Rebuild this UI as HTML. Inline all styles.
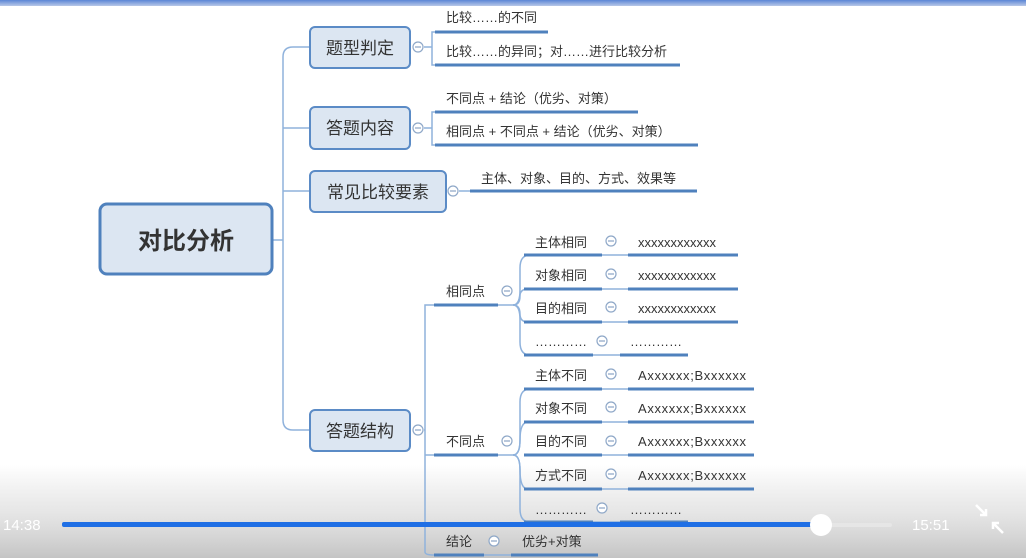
<!DOCTYPE html>
<html><head><meta charset="utf-8"><style>
html,body{margin:0;padding:0;background:#fff;width:1026px;height:558px;overflow:hidden}
svg text{font-family:"Liberation Sans","Noto Sans CJK SC",sans-serif;fill:#333}
</style></head><body>
<svg width="1026" height="558" viewBox="0 0 1026 558" xmlns="http://www.w3.org/2000/svg">
<defs>
<linearGradient id="ov" x1="0" y1="0" x2="0" y2="1">
<stop offset="0" stop-color="#d0d0d0" stop-opacity="0"/>
<stop offset="0.5" stop-color="#d6d6d6" stop-opacity="0.6"/>
<stop offset="1" stop-color="#c4c4c4" stop-opacity="1"/>
</linearGradient>
<linearGradient id="tb" x1="0" y1="0" x2="0" y2="1">
<stop offset="0" stop-color="#5b86d6"/><stop offset="1" stop-color="#b8c8e8"/>
</linearGradient>
</defs>
<rect x="0" y="465" width="1026" height="93" fill="url(#ov)"/>
<rect x="0" y="0" width="1026" height="6" fill="url(#tb)"/>
<g fill="none" stroke="#8fb2dc" stroke-width="1.5">
<path d="M273 240 H283"/>
<path d="M309 47 H293 Q283 47 283 57 V420 Q283 430 293 430 H309"/>
<path d="M283 128 H309"/>
<path d="M283 191 H309"/>
<path d="M424 47 H432 M435 32 H432 V65 H435"/>
<path d="M424 128 H432 M435 112 H432 V145 H435"/>
<path d="M459 191 H470"/>
<path d="M424 430 H425 M434 305 H425 V552 Q425 555 434 555"/>
<path d="M425 455 H434"/>
<path d="M498 305 H513 Q520 305 520 290 V268 Q520 255 530 255"/>
<path d="M513 305 Q520 305 520 296 Q520 289 528 289"/>
<path d="M513 305 Q520 305 520 314 Q520 322 528 322"/>
<path d="M513 305 Q520 305 520 320 V342 Q520 355 530 355"/>
<path d="M498 455 H513 Q520 455 520 440 V402 Q520 389 530 389"/>
<path d="M513 455 Q520 455 520 440 Q520 422 528 422"/>
<path d="M513 455 Q520 455 520 470 Q520 489 528 489"/>
<path d="M513 455 Q520 455 520 470 V509 Q520 522 530 522"/>
<path d="M602 255 H628 M602 289 H628 M602 322 H628 M593 355 H620"/>
<path d="M602 389 H628 M602 422 H628 M602 455 H628 M602 489 H628 M593 522 H620 M484 555 H511"/>
</g>
<rect x="100" y="204" width="172" height="70" rx="7" fill="#dce6f2" stroke="#4f81bd" stroke-width="3"/>
<text x="186" y="249" font-size="24" font-weight="bold" text-anchor="middle" fill="#2a3b55">对比分析</text>
<g fill="#dce6f2" stroke="#5b8bc6" stroke-width="2">
<rect x="310" y="27" width="100" height="41" rx="5"/>
<rect x="310" y="107" width="100" height="42" rx="5"/>
<rect x="310" y="171" width="136" height="41" rx="5"/>
<rect x="310" y="410" width="100" height="41" rx="5"/>
</g>
<g font-size="17" text-anchor="middle">
<text x="360" y="54">题型判定</text>
<text x="360" y="134">答题内容</text>
<text x="378" y="198">常见比较要素</text>
<text x="360" y="437">答题结构</text>
</g>
<g fill="#fff" stroke="#8fa8c8" stroke-width="1.2">
<circle cx="418" cy="47" r="5"/><circle cx="418" cy="128" r="5"/><circle cx="453" cy="191" r="5"/><circle cx="418" cy="430" r="5"/>
<circle cx="507" cy="291" r="5"/><circle cx="507" cy="441" r="5"/><circle cx="494" cy="541" r="5"/>
<circle cx="611" cy="241" r="5"/><circle cx="611" cy="274" r="5"/><circle cx="611" cy="307" r="5"/><circle cx="602" cy="341" r="5"/>
<circle cx="611" cy="374" r="5"/><circle cx="611" cy="407" r="5"/><circle cx="611" cy="441" r="5"/><circle cx="611" cy="474" r="5"/><circle cx="602" cy="508" r="5"/>
</g>
<g stroke="#8fa8c8" stroke-width="1.2">
<path d="M415 47h6M415 128h6M450 191h6M415 430h6M504 291h6M504 441h6M491 541h6M608 241h6M608 274h6M608 307h6M599 341h6M608 374h6M608 407h6M608 441h6M608 474h6M599 508h6"/>
</g>
<g stroke="#4f81bd" stroke-width="3">
<path d="M435 32H548M435 65H680M435 112H638M435 145H698M470 191H697"/>
<path d="M434 305H498M434 455H498M434 555H484M511 555H598"/>
<path d="M524 255H602M628 255H738M524 289H602M628 289H738M524 322H602M628 322H738M524 355H593M620 355H688"/>
<path d="M524 389H602M628 389H754M524 422H602M628 422H754M524 455H602M628 455H754M524 489H602M628 489H754M524 522H593M620 522H688"/>
</g>
<g font-size="13">
<text x="446" y="22">比较……的不同</text>
<text x="446" y="56">比较……的异同；对……进行比较分析</text>
<text x="446" y="103">不同点 + 结论（优劣、对策）</text>
<text x="446" y="136">相同点 + 不同点 + 结论（优劣、对策）</text>
<text x="481" y="183">主体、对象、目的、方式、效果等</text>
<text x="446" y="296">相同点</text>
<text x="446" y="446">不同点</text>
<text x="446" y="546">结论</text>
<text x="522" y="546">优劣+对策</text>
<text x="535" y="247">主体相同</text><text x="638" y="247">xxxxxxxxxxxx</text>
<text x="535" y="280">对象相同</text><text x="638" y="280">xxxxxxxxxxxx</text>
<text x="535" y="313">目的相同</text><text x="638" y="313">xxxxxxxxxxxx</text>
<text x="535" y="346">…………</text><text x="630" y="346">…………</text>
<text x="535" y="380">主体不同</text><text x="638" y="380" textLength="108">Axxxxxx;Bxxxxxx</text>
<text x="535" y="413">对象不同</text><text x="638" y="413" textLength="108">Axxxxxx;Bxxxxxx</text>
<text x="535" y="446">目的不同</text><text x="638" y="446" textLength="108">Axxxxxx;Bxxxxxx</text>
<text x="535" y="480">方式不同</text><text x="638" y="480" textLength="108">Axxxxxx;Bxxxxxx</text>
<text x="535" y="514">…………</text><text x="630" y="514">…………</text>
</g>
<rect x="62" y="523" width="830" height="4" rx="2" fill="#e6e6e6"/>
<rect x="62" y="522" width="760" height="5" rx="2" fill="#1f6fe5"/>
<circle cx="821" cy="525" r="11" fill="#fff"/>
<text x="3" y="530" font-size="15" style="fill:#fff">14:38</text>
<text x="912" y="530" font-size="15" style="fill:#fff">15:51</text>
<g stroke="#fff" stroke-width="2.5" fill="none">
<path d="M976 505 L986 515 M986 509 V515 H980"/>
<path d="M1003 533 L993 523 M993 529 V523 H999"/>
</g>
</svg>
</body></html>
